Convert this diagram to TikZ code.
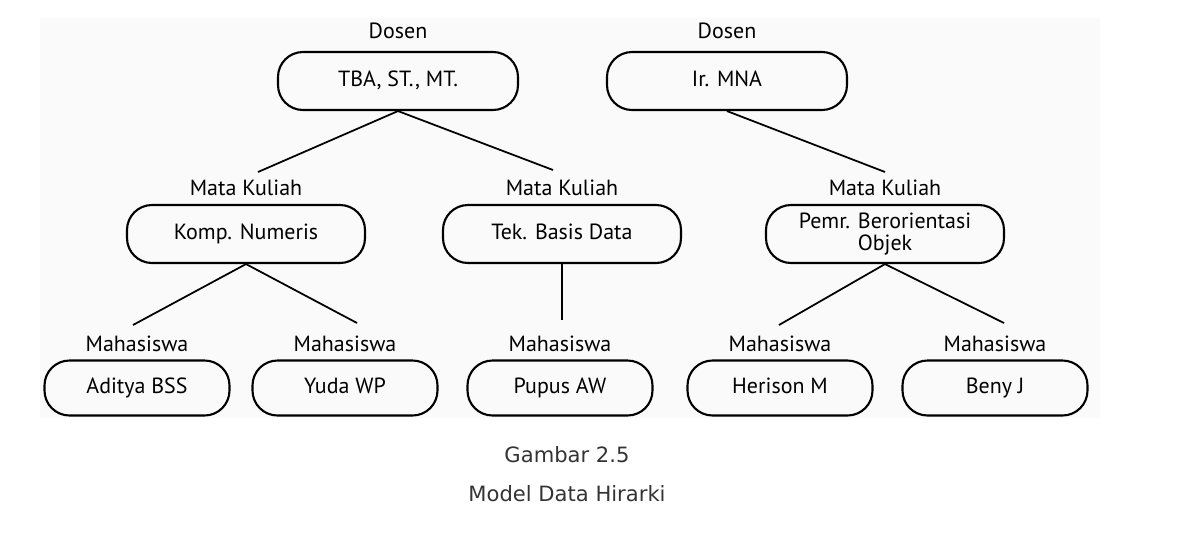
\documentclass[tikz,border=0pt]{standalone}
\usepackage{fontspec}
\setmainfont{PT Sans}
\newfontfamily\capfont{DejaVu Sans}
\usetikzlibrary{positioning}

\begin{document}
\begin{tikzpicture}[%
    box/.style={draw, line width=1.2pt, rounded corners=0.5cm, align=center,
        font=\fontsize{12.5}{12.5}\selectfont, inner sep=0pt,
        text height=1.8ex, text depth=0.5ex},
    topbox/.style={box, minimum width=4.8cm, minimum height=1.16cm},
    midbox/.style={box, minimum width=4.76cm, minimum height=1.16cm},
    botbox/.style={box, minimum width=3.7cm, minimum height=1.1cm},
    lbl/.style={inner sep=0pt, text depth=0pt, font=\fontsize{12.5}{14}\selectfont},
    every edge/.style={draw, line width=1pt}
    ]

    \useasboundingbox (0,0) rectangle (23.64,-10.64);
    \fill[black!2] (0.8,-0.36) rectangle (22.0,-8.36);

    % dosen
    \node[topbox] (tba) at (7.96,-1.62) {TBA, ST., MT.};
    \node[topbox] (mna) at (14.54,-1.62) {Ir. MNA};

    % mata kuliah
    \node[midbox] (komp) at (4.92,-4.68) {Komp. Numeris};
    \node[midbox] (tek) at (11.24,-4.68) {Tek. Basis Data};
    \node[midbox, text height=, text depth=] (pbo) at (17.70,-4.68) {Pemr. Berorientasi\\Objek};

    % mahasiswa
    \node[botbox] (aditya) at (2.74,-7.76) {Aditya BSS};
    \node[botbox] (yuda) at (6.90,-7.76) {Yuda WP};
    \node[botbox] (pupus) at (11.20,-7.76) {Pupus AW};
    \node[botbox] (herison) at (15.60,-7.76) {Herison M};
    \node[botbox] (beny) at (19.90,-7.76) {Beny J};

    \node[lbl] (dosenA) [above=0.25cm of tba] {Dosen};
    \node[lbl] (dosenB) [above=0.25cm of mna] {Dosen};
    \node[lbl] (mkKomp) [above=0.16cm of komp] {Mata Kuliah};
    \node[lbl] (mkTek) [above=0.16cm of tek] {Mata Kuliah};
    \node[lbl] (mkPbo) [above=0.16cm of pbo] {Mata Kuliah};
    \foreach \m in {aditya,yuda,pupus,herison,beny}
        \node[lbl] (mhs-\m) [above=0.16cm of \m] {Mahasiswa};

    % ujung garis
    \coordinate (eKomp) at (5.16,-3.44);
    \coordinate (eTek) at (11.06,-3.40);
    \coordinate (ePbo) at (17.70,-3.44);
    \coordinate (eAditya) at (2.66,-6.50);
    \coordinate (eYuda) at (7.14,-6.46);
    \coordinate (ePupus) at (11.24,-6.40);
    \coordinate (eHerison) at (15.58,-6.50);
    \coordinate (eBeny) at (20.08,-6.46);

    \path (tba.south) edge (eKomp);
    \path (tba.south) edge (eTek);
    \path (mna.south) edge (ePbo);
    \path (komp.south) edge (eAditya);
    \path (komp.south) edge (eYuda);
    \path (tek.south) edge (ePupus);
    \path (pbo.south) edge (eHerison);
    \path (pbo.south) edge (eBeny);

    \node[font=\capfont\fontsize{12}{14}\selectfont, text=black!80] (gambar) at (11.34,-9.10) {Gambar 2.5};
    \node[font=\capfont\fontsize{12}{14}\selectfont, text=black!80] (judul) at (11.34,-9.88) {Model Data Hirarki};

    \end{tikzpicture}
\end{document}
